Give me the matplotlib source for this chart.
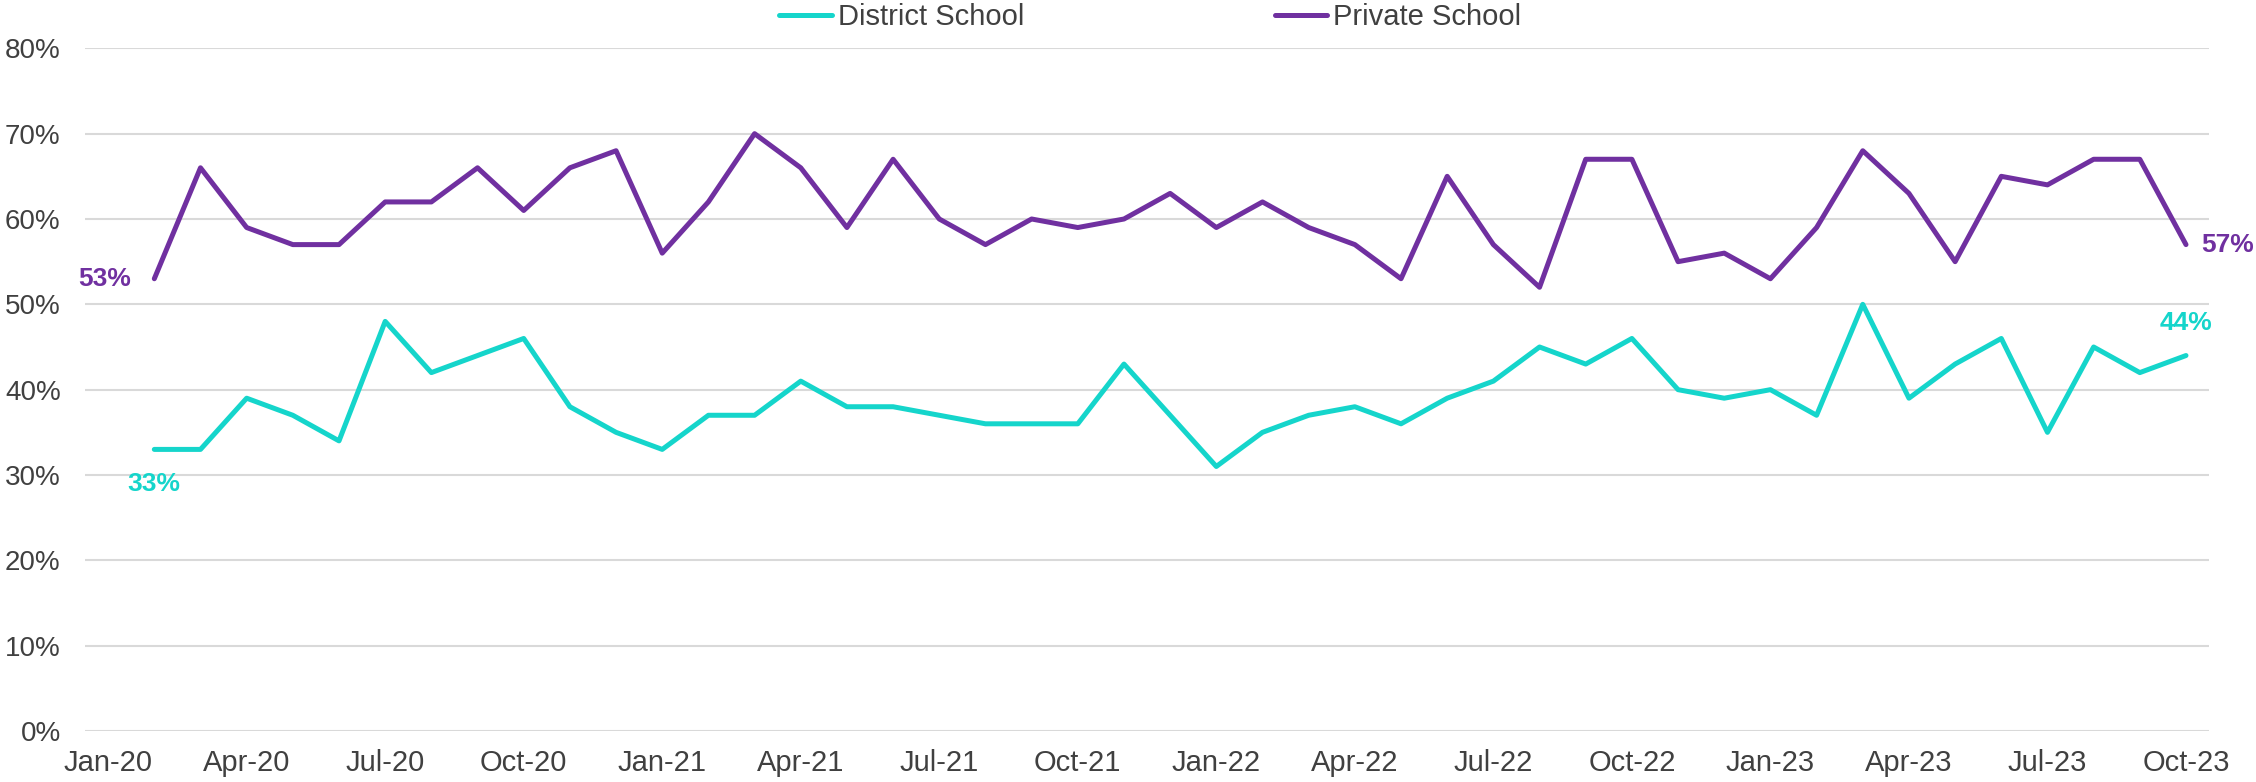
#!/usr/bin/env python3
"""District vs private school share, monthly Jan-20 .. Oct-23."""

import matplotlib
matplotlib.use("Agg")
import matplotlib.pyplot as plt
from matplotlib.ticker import PercentFormatter

plt.rcParams["font.family"] = ["Liberation Sans", "DejaVu Sans"]

# months on the category axis; Jan-20 has no data
months = [
    "Jan-20", "Feb-20", "Mar-20", "Apr-20", "May-20", "Jun-20", "Jul-20", "Aug-20",
    "Sep-20", "Oct-20", "Nov-20", "Dec-20",
    "Jan-21", "Feb-21", "Mar-21", "Apr-21", "May-21", "Jun-21", "Jul-21", "Aug-21",
    "Sep-21", "Oct-21", "Nov-21", "Dec-21",
    "Jan-22", "Feb-22", "Mar-22", "Apr-22", "May-22", "Jun-22", "Jul-22", "Aug-22",
    "Sep-22", "Oct-22", "Nov-22", "Dec-22",
    "Jan-23", "Feb-23", "Mar-23", "Apr-23", "May-23", "Jun-23", "Jul-23", "Aug-23",
    "Sep-23", "Oct-23",
]

district = [
    None, 33, 33, 39, 37, 34, 48, 42, 44, 46, 38, 35,
    33, 37, 37, 41, 38, 38, 37, 36, 36, 36, 43, 37,
    31, 35, 37, 38, 36, 39, 41, 45, 43, 46, 40, 39,
    40, 37, 50, 39, 43, 46, 35, 45, 42, 44,
]
private = [
    None, 53, 66, 59, 57, 57, 62, 62, 66, 61, 66, 68,
    56, 62, 70, 66, 59, 67, 60, 57, 60, 59, 60, 63,
    59, 62, 59, 57, 53, 65, 57, 52, 67, 67, 55, 56,
    53, 59, 68, 63, 55, 65, 64, 67, 67, 57,
]

tick_every = 3

CYAN = "#15D5CB"
PURPLE = "#7030A0"
TEXT = "#404040"


def to_xy(vals):
    xs = [i for i, v in enumerate(vals) if v is not None]
    ys = [vals[i] / 100 for i in xs]
    return xs, ys


fig = plt.figure(figsize=(22.56, 7.82), dpi=100)
ax = fig.add_axes([0.0377, 0.0652, 0.9415, 0.873])

xd, yd = to_xy(district)
xp, yp = to_xy(private)
ax.plot(xd, yd, color=CYAN, lw=3.6, solid_capstyle="round",
        solid_joinstyle="round", label="District School", zorder=3)
ax.plot(xp, yp, color=PURPLE, lw=3.6, solid_capstyle="round",
        solid_joinstyle="round", label="Private School", zorder=3)

# end-point labels
lab = dict(textcoords="offset points", fontsize=19, fontweight="bold")
ax.annotate(f"{private[xp[0]]}%", (xp[0], yp[0]), xytext=(-16.5, 0),
            ha="right", va="center", color=PURPLE, **lab)
ax.annotate(f"{district[xd[0]]}%", (xd[0], yd[0]), xytext=(0, -25),
            ha="center", va="center", color=CYAN, **lab)
ax.annotate(f"{private[xp[-1]]}%", (xp[-1], yp[-1]), xytext=(11, 0),
            ha="left", va="center", color=PURPLE, **lab)
ax.annotate(f"{district[xd[-1]]}%", (xd[-1], yd[-1]), xytext=(0, 23.5),
            ha="center", va="center", color=CYAN, **lab)

ax.set_xlim(-0.5, len(months) - 0.5)
ax.set_ylim(0, 0.8)
ax.set_yticks([i / 10 for i in range(9)])
ax.yaxis.set_major_formatter(PercentFormatter(1.0, decimals=0))
tick_pos = list(range(0, len(months), tick_every))
ax.set_xticks(tick_pos)
ax.set_xticklabels([months[i] for i in tick_pos])

ax.grid(axis="y", color="#D9D9D9", lw=1.5)
ax.set_axisbelow(True)
for s in ax.spines.values():
    s.set_visible(False)
ax.tick_params(axis="both", length=0, colors=TEXT)
ax.tick_params(axis="y", pad=17.5, labelsize=20)
ax.tick_params(axis="x", pad=13, labelsize=21)

ax.legend(loc="center", bbox_to_anchor=(0.5015, 1.046), ncol=2, frameon=False,
          fontsize=21, handlelength=1.8, handletextpad=0.2,
          columnspacing=8.6, labelcolor=TEXT)

fig.savefig("out.png")
